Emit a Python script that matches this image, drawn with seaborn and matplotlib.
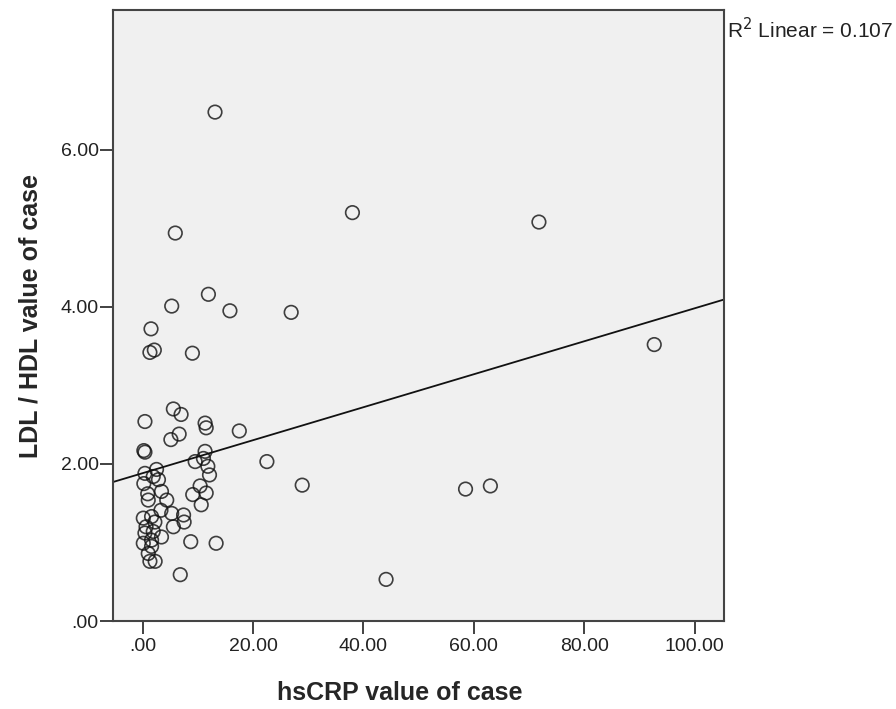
import numpy as np
import pandas as pd
import matplotlib
matplotlib.use('Agg')
import matplotlib.pyplot as plt
import seaborn as sns

# hsCRP dan LDL/HDL per kasus
hscrp = [13.1, 38.0, 71.8, 5.9, 5.25, 11.9, 15.8, 26.9, 1.5, 1.3, 2.1, 9.0, 92.7,
         0.4, 5.55, 6.95, 11.3, 11.5, 5.1, 6.6, 17.5, 0.2, 0.4, 11.3, 9.5, 11.0,
         11.8, 12.1, 22.5, 10.4, 11.5, 9.06, 10.6, 28.9, 58.5, 63.0, 0.4, 2.5, 2.85,
         0.2, 1.9, 1.0, 3.4, 4.35, 0.1, 1.6, 3.3, 5.25, 7.4, 7.5, 5.55, 3.4, 1.9,
         0.6, 0.1, 1.6, 1.0, 1.3, 2.25, 8.7, 13.3, 6.8, 44.1,
         0.4, 1.6, 0.9, 2.2]
ldl_hdl = [6.48, 5.20, 5.08, 4.94, 4.01, 4.16, 3.95, 3.93, 3.72, 3.42, 3.45, 3.41, 3.52,
           2.54, 2.70, 2.63, 2.52, 2.46, 2.31, 2.38, 2.42, 2.17, 2.15, 2.16, 2.03, 2.07,
           1.97, 1.86, 2.03, 1.72, 1.63, 1.61, 1.48, 1.73, 1.68, 1.72, 1.88, 1.93, 1.80,
           1.75, 1.84, 1.54, 1.65, 1.54, 1.31, 1.33, 1.41, 1.37, 1.35, 1.26, 1.20, 1.07, 1.14,
           1.20, 0.99, 0.95, 0.86, 0.76, 0.76, 1.01, 0.99, 0.59, 0.53,
           1.12, 1.03, 1.62, 1.26]
x_ticks = [0, 20, 40, 60, 80, 100]
x_ticklabels = ['.00', '20.00', '40.00', '60.00', '80.00', '100.00']
y_ticks = [0, 2, 4, 6]
y_ticklabels = ['.00', '2.00', '4.00', '6.00']

df = pd.DataFrame({'hsCRP': hscrp, 'ratio': ldl_hdl})

# R kuadrat regresi linear
r = np.corrcoef(df['hsCRP'], df['ratio'])[0, 1]
print(f"R2 = {r**2:.3f}")

sns.set_style('white')
plt.rcParams['font.family'] = ['Liberation Sans', 'DejaVu Sans']

fig = plt.figure(figsize=(8.96, 7.09), dpi=100)
ax = fig.add_axes([0.1258, 0.1241, 0.6826, 0.8618])
ax.set_facecolor('#f0f0f0')
ax.set_xlim(-5.44, 105.4)
ax.set_ylim(0, 7.78)

sns.regplot(data=df, x='hsCRP', y='ratio', ax=ax, ci=None, truncate=False,
            scatter_kws=dict(s=95, facecolors='none', edgecolors='#111111', linewidths=1.2),
            line_kws=dict(color='#111111', linewidth=1.3))

ax.set_xticks(x_ticks)
ax.set_xticklabels(x_ticklabels)
ax.set_yticks(y_ticks)
ax.set_yticklabels(y_ticklabels)
ax.tick_params(axis='both', direction='out', length=9.5, width=1.3, color='#333333',
               labelsize=14, labelcolor='#222222', bottom=True, left=True)
ax.tick_params(axis='x', pad=2.5)
ax.tick_params(axis='y', pad=0.5)
for sp in ax.spines.values():
    sp.set_color('#444444')
    sp.set_linewidth(1.5)

ax.set_xlabel('hsCRP value of case', fontsize=18, fontweight='bold')
ax.set_ylabel('LDL / HDL value of case', fontsize=18, fontweight='bold')
ax.xaxis.set_label_coords(0.47, -0.098)
ax.yaxis.set_label_coords(-0.115, 0.5)

fig.text(0.811, 0.958, f'R$^2$ Linear = {0.107:.3f}', fontsize=15, ha='left', va='center',
         color='#222222')

fig.savefig('out.png', dpi=100, facecolor='white')
